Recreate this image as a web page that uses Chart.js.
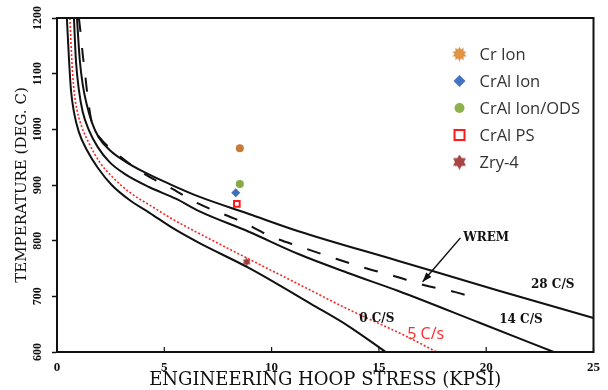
<!DOCTYPE html>
<html>
<head>
<meta charset="utf-8">
<script src="https://cdn.jsdelivr.net/npm/chart.js@4.4.0/dist/chart.umd.min.js"></script>
<style>
  html, body { margin: 0; padding: 0; background: #fff; }
</style>
</head>
<body>
<canvas id="creepChart" width="608" height="390"></canvas>
<script>
"use strict";

// burst curves (stress ksi, temperature C)
const stress0cs = [0.46, 0.56, 0.65, 0.79, 1.02, 1.39, 1.90, 2.55, 3.38, 4.31, 5.46, 6.62, 8.94, 11.85, 13.56, 15.32];
const temp0cs = [1200, 1125, 1071, 1031, 995, 963, 931, 900, 873, 850, 821, 796, 751, 686, 647, 600];

const stress5cs = [0.60, 0.69, 0.79, 0.93, 1.16, 1.53, 1.99, 2.59, 3.38, 4.44, 5.46, 7.22, 8.94, 11.25, 13.56, 16.34, 17.69];
const temp5cs = [1200, 1125, 1071, 1035, 1004, 972, 941, 914, 887, 861, 837, 801, 767, 722, 677, 627, 600];

const stress14cs = [0.79, 0.88, 1.02, 1.20, 1.48, 1.90, 2.45, 3.15, 4.31, 5.56, 6.62, 8.94, 11.25, 13.56, 15.88, 19.72, 23.15];
const temp14cs = [1200, 1125, 1071, 1031, 999, 968, 941, 920, 896, 875, 853, 816, 776, 742, 710, 652, 600];

const stress28cs = [0.93, 1.06, 1.20, 1.39, 1.62, 1.94, 2.45, 3.15, 4.07, 5.23, 6.62, 8.94, 11.25, 15.88, 20.51, 25];
const temp28cs = [1200, 1125, 1080, 1044, 1013, 986, 963, 943, 923, 902, 879, 848, 817, 764, 711, 661];

const stressWrem = [1.02, 1.11, 1.20, 1.30, 1.39, 1.57, 1.76, 2.08, 2.69, 4.07, 5.23, 6.62, 8.61, 9.95, 11.34, 12.73, 14.17, 15.65, 17.13, 18.52, 19.68];
const tempWrem = [1200, 1170, 1134, 1103, 1071, 1022, 999, 981, 959, 920, 896, 866, 834, 808, 789, 771, 753, 737, 720, 708, 695];

// test points
const pointNames = ['Cr Ion', 'CrAl Ion', 'CrAl Ion/ODS', 'CrAl PS', 'Zry-4'];
const pointStress = [8.52, 8.33, 8.52, 8.38, 8.84];
const pointTemp = [966, 886, 902, 866, 762];

// axis ticks
const stressTicks = [0, 5, 10, 15, 20, 25];
const tempTicks = [600, 700, 800, 900, 1000, 1100, 1200];

// curve labels
const noteText = ['WREM', '28 C/S', '14 C/S', '0 C/S', '5 C/s'];
const noteStress = [20.0, 23.1, 21.62, 14.9, 17.18];
const noteTemp = [805, 720, 657, 659, 631];

const toPoints = (xs, ys) => xs.map((v, i) => ({x: v, y: ys[i]}));

const makeStar = (size, color, spikes, inner) => {
  const c = document.createElement('canvas');
  c.width = size; c.height = size;
  const g = c.getContext('2d');
  const r = size / 2;
  g.fillStyle = color;
  g.beginPath();
  for (let i = 0; i < spikes * 2; i++) {
    const rad = i % 2 === 0 ? r : r * inner;
    const a = -Math.PI / 2 + i * Math.PI / spikes;
    const px = r + rad * Math.cos(a), py = r + rad * Math.sin(a);
    if (i === 0) g.moveTo(px, py); else g.lineTo(px, py);
  }
  g.closePath();
  g.fill();
  return c;
};

const zryStar = makeStar(9, '#9a3a3a', 6, 0.6);
const zryLegend = makeStar(15, '#a84444', 6, 0.6);
const crBurst = (() => {
  const c = makeStar(15, '#d88a3e', 10, 0.62);
  const g = c.getContext('2d');
  g.fillStyle = '#e09444';
  g.beginPath(); g.arc(7.5, 7.5, 4.2, 0, Math.PI * 2); g.fill();
  return c;
})();

const curve = (label, xs, ys, color, width, dash) => ({
  label: label,
  data: toPoints(xs, ys),
  showLine: true,
  borderColor: color,
  borderWidth: width,
  borderDash: dash,
  pointRadius: 0,
  cubicInterpolationMode: 'monotone',
  fill: false
});

const marker = (i, style, bg, border, radius) => ({
  label: pointNames[i],
  data: [{x: pointStress[i], y: pointTemp[i]}],
  pointStyle: style,
  pointRadius: radius,
  backgroundColor: bg,
  borderColor: border,
  borderWidth: border === bg ? 0 : 2,
  showLine: false
});

const notesAndFrame = {
  id: 'notesAndFrame',
  afterDraw(chart) {
    const {ctx, chartArea: a, scales: {x, y}} = chart;
    ctx.save();
    ctx.strokeStyle = '#111';
    ctx.lineWidth = 2;
    ctx.strokeRect(a.left, a.top, a.right - a.left, a.bottom - a.top);

    // small inward ticks on stress axis
    ctx.lineWidth = 1.2;
    x.ticks.forEach((t) => {
      const px = x.getPixelForValue(t.value);
      ctx.beginPath();
      ctx.moveTo(px, a.bottom);
      ctx.lineTo(px, a.bottom - 5);
      ctx.stroke();
    });

    // curve labels
    ctx.textAlign = 'center';
    ctx.textBaseline = 'middle';
    noteText.forEach((txt, i) => {
      const px = x.getPixelForValue(noteStress[i]);
      const py = y.getPixelForValue(noteTemp[i]);
      if (txt === '5 C/s') {
        ctx.fillStyle = '#ff2a2a';
        ctx.font = '16px "Open Sans"';
      } else {
        ctx.fillStyle = '#111';
        ctx.font = 'bold 12px "DejaVu Serif"';
      }
      ctx.fillText(txt, px, py);
    });

    // WREM arrow
    const x1 = x.getPixelForValue(18.8), y1 = y.getPixelForValue(805);
    const x2 = x.getPixelForValue(17.04), y2 = y.getPixelForValue(726);
    ctx.strokeStyle = '#111';
    ctx.lineWidth = 1.5;
    ctx.beginPath(); ctx.moveTo(x1, y1); ctx.lineTo(x2, y2); ctx.stroke();
    const ang = Math.atan2(y2 - y1, x2 - x1);
    ctx.fillStyle = '#111';
    ctx.beginPath();
    ctx.moveTo(x2, y2);
    ctx.lineTo(x2 - 10 * Math.cos(ang - 0.35), y2 - 10 * Math.sin(ang - 0.35));
    ctx.lineTo(x2 - 10 * Math.cos(ang + 0.35), y2 - 10 * Math.sin(ang + 0.35));
    ctx.closePath();
    ctx.fill();

    // legend
    const lx = a.right - 134, ly = a.top + 36, gap = 27;
    ctx.textAlign = 'left';
    ctx.font = '16.5px "Open Sans"';
    pointNames.forEach((name, i) => {
      const cy = ly + i * gap;
      if (i === 0) {
        ctx.drawImage(crBurst, lx - 7.5, cy - 7.5);
      } else if (i === 1) {
        ctx.fillStyle = '#4472c4';
        ctx.beginPath();
        ctx.moveTo(lx, cy - 6); ctx.lineTo(lx + 6, cy); ctx.lineTo(lx, cy + 6); ctx.lineTo(lx - 6, cy);
        ctx.closePath(); ctx.fill();
      } else if (i === 2) {
        ctx.fillStyle = '#8db14b';
        ctx.beginPath(); ctx.arc(lx, cy, 5, 0, Math.PI * 2); ctx.fill();
      } else if (i === 3) {
        ctx.strokeStyle = '#ff1a1a';
        ctx.lineWidth = 2;
        ctx.strokeRect(lx - 5, cy - 5, 10, 10);
      } else {
        ctx.drawImage(zryLegend, lx - 7.5, cy - 7.5);
      }
      ctx.fillStyle = '#333';
      ctx.fillText(name, lx + 20, cy + 1);
    });
    ctx.restore();
  }
};

const ctx = document.getElementById('creepChart').getContext('2d');
const creepChart = new Chart(ctx, {
  type: 'scatter',
  data: {
    datasets: [
      curve('0 C/S', stress0cs, temp0cs, '#111', 2, []),
      curve('5 C/s', stress5cs, temp5cs, '#ff2020', 1.6, [2, 2]),
      curve('14 C/S', stress14cs, temp14cs, '#111', 2, []),
      curve('28 C/S', stress28cs, temp28cs, '#111', 2, []),
      curve('WREM', stressWrem, tempWrem, '#111', 2, [14, 16]),
      marker(0, 'circle', '#c77c3c', '#c77c3c', 4),
      marker(1, 'rectRot', '#3f6fb8', '#3f6fb8', 4.5),
      marker(2, 'circle', '#86ab45', '#86ab45', 4),
      marker(3, 'rect', '#fff', '#ff1a1a', 4),
      marker(4, zryStar, '#9a3a3a', '#9a3a3a', 4.5)
    ]
  },
  options: {
    responsive: false,
    animation: false,
    layout: {padding: {top: 18, right: 11, left: 0, bottom: 0}},
    plugins: {legend: {display: false}, tooltip: {enabled: false}},
    scales: {
      x: {
        type: 'linear',
        min: stressTicks[0],
        max: stressTicks[stressTicks.length - 1],
        afterBuildTicks: (s) => { s.ticks = stressTicks.map(v => ({value: v})); },
        ticks: {padding: 8, color: '#111', font: {family: 'Liberation Serif', size: 13, weight: 'bold'}},
        grid: {drawOnChartArea: false, drawTicks: false},
        border: {color: '#111', width: 2},
        title: {
          display: true,
          text: 'ENGINEERING HOOP STRESS (KPSI)',
          color: '#111',
          font: {family: 'DejaVu Serif', size: 18, lineHeight: 1},
          padding: {top: 0, bottom: 1}
        },
        afterFit: (s) => { s.height = 38; }
      },
      y: {
        type: 'linear',
        min: tempTicks[0],
        max: tempTicks[tempTicks.length - 1],
        afterBuildTicks: (s) => { s.ticks = tempTicks.map(v => ({value: v})); },
        ticks: {
          minRotation: 90, maxRotation: 90, crossAlign: 'center', padding: 2,
          color: '#111', font: {family: 'Liberation Serif', size: 12, weight: 'bold'},
          callback: (v) => String(v)
        },
        grid: {drawOnChartArea: false, tickLength: 5, tickColor: '#111', tickWidth: 1.5},
        border: {color: '#111', width: 2},
        title: {
          display: true,
          text: 'TEMPERATURE (DEG. C)',
          color: '#111',
          font: {family: 'DejaVu Serif', size: 15},
          padding: {top: 13, bottom: 0}
        },
        afterFit: (s) => { s.width = 57; }
      }
    }
  },
  plugins: [notesAndFrame]
});
</script>
</body>
</html>
